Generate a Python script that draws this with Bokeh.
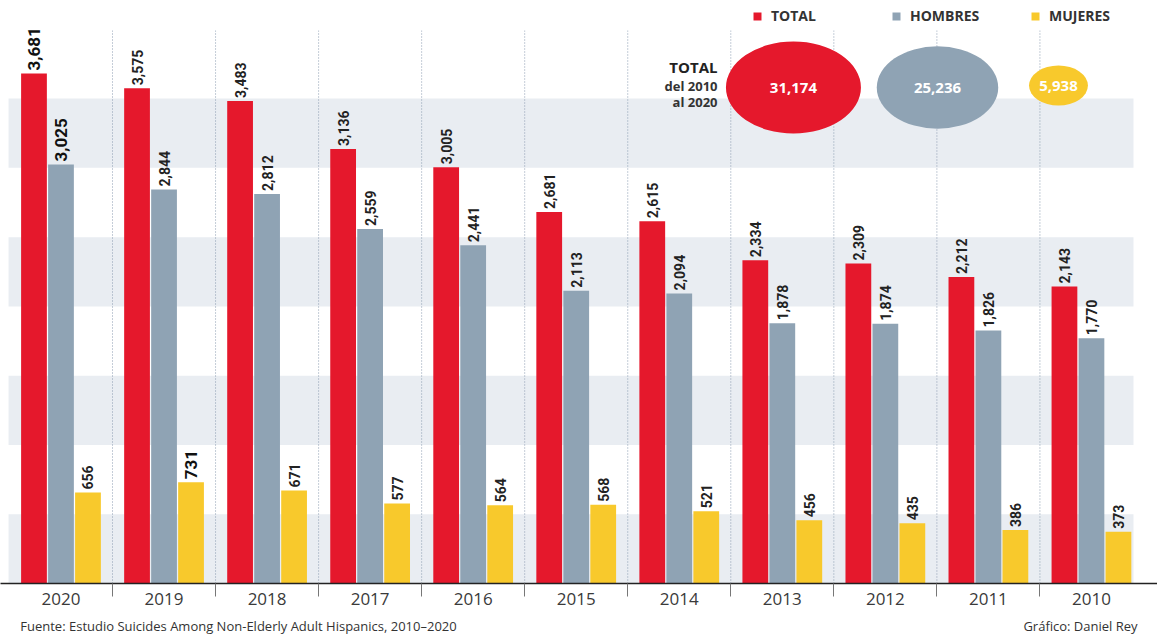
import numpy as np
from bokeh.plotting import figure
from bokeh.models import Range1d, FixedTicker, Legend, LegendItem, Label, LinearAxis
from bokeh.core.properties import value
from bokeh.embed import file_html
from bokeh.resources import INLINE

# ---------------- data ----------------
years = ["2020", "2019", "2018", "2017", "2016", "2015", "2014", "2013", "2012", "2011", "2010"]
total = [3681, 3575, 3483, 3136, 3005, 2681, 2615, 2334, 2309, 2212, 2143]
hombres = [3025, 2844, 2812, 2559, 2441, 2113, 2094, 1878, 1874, 1826, 1770]
mujeres = [656, 731, 671, 577, 564, 568, 521, 456, 435, 386, 373]
series_names = ["TOTAL", "HOMBRES", "MUJERES"]
series_values = [total, hombres, mujeres]
footer_texts = ["Fuente: Estudio Suicides Among Non-Elderly Adult Hispanics, 2010\u20132020",
                "Gr\u00e1fico: Daniel Rey"]

# ---------------- style ----------------
colors = ["#e5182c", "#8fa3b4", "#f8c92c"]
band_color = "#e9edf2"
band_bottoms = [0, 1000, 2000, 3000]
band_tops = [500, 1500, 2500, 3500]
offsets = [-0.262, 0.0, 0.262]
bar_w = 0.25
LABEL_FONT = "Roboto"
MAIN_FONT = "Open Sans"

n = len(years)
centers = np.arange(n)
boundaries = np.arange(n - 1) + 0.5
x_lo, x_hi = -0.587, 10.641

p = figure(width=1157, height=637,
           x_range=Range1d(x_lo, x_hi), y_range=Range1d(0, 4208),
           y_axis_type=None, toolbar_location=None, output_backend="svg",
           min_border_left=0, min_border_right=0, min_border_top=0, min_border_bottom=54)
p.xgrid.visible = False
p.ygrid.visible = False
p.outline_line_color = None
p.background_fill_color = "white"

# background bands
p.quad(left=-0.509, right=10.408, bottom=band_bottoms, top=band_tops,
       fill_color=band_color, line_color=None)

# dotted separators between years
p.segment(x0=boundaries, y0=0, x1=boundaries, y1=3990,
          line_color="#8a9bb0", line_dash="1 2", line_width=1)

# bars + labels
renderers = []
for vals, off, col in zip(series_values, offsets, colors):
    xs = centers + off
    r = p.vbar(x=xs, top=vals, width=bar_w, fill_color=col, line_color=None)
    renderers.append(r)
    vmax = max(vals)
    norm_idx = [i for i, v in enumerate(vals) if v != vmax]
    bold_idx = [i for i, v in enumerate(vals) if v == vmax]
    p.text(x=[xs[i] for i in norm_idx], y=[vals[i] for i in norm_idx],
           text=[f"{vals[i]:,}" for i in norm_idx],
           angle=np.pi / 2, text_align="left", text_baseline="middle", y_offset=-3,
           text_font=value(LABEL_FONT), text_font_size="14px", text_font_style="bold",
           text_color="#222222")
    p.text(x=[xs[i] for i in bold_idx], y=[vals[i] for i in bold_idx],
           text=[f"{vals[i]:,}" for i in bold_idx],
           angle=np.pi / 2, text_align="left", text_baseline="middle", y_offset=-3,
           text_font=value(LABEL_FONT), text_font_size="17px", text_font_style="bold",
           text_color="#111111")

# bubbles with overall sums (area proportional)
sums = [sum(v) for v in series_values]
bubble_x = [7.108, 8.506, 9.68]
bubble_y = [3580, 3580, 3594]
k = 135 / np.sqrt(max(sums))
bw = [k * np.sqrt(s) for s in sums]
bh = [0.68 * w for w in bw]
p.ellipse(x=bubble_x, y=bubble_y, width=bw, height=bh,
          width_units="screen", height_units="screen",
          fill_color=colors, line_color=None)
p.text(x=bubble_x, y=bubble_y, text=[f"{s:,}" for s in sums],
       text_align="center", text_baseline="middle",
       text_font=value(MAIN_FONT), text_font_size="15px", text_font_style="bold",
       text_color="white")

p.add_layout(Label(x=717, y=517, x_units="screen", y_units="screen", text="TOTAL",
                   text_align="right", text_baseline="middle", text_font=MAIN_FONT,
                   text_font_size="15px", text_font_style="bold", text_color="#222222"))
p.add_layout(Label(x=717, y=498, x_units="screen", y_units="screen", text="del 2010",
                   text_align="right", text_baseline="middle", text_font=MAIN_FONT,
                   text_font_size="13px", text_font_style="bold", text_color="#333333"))
p.add_layout(Label(x=717, y=482, x_units="screen", y_units="screen", text="al 2020",
                   text_align="right", text_baseline="middle", text_font=MAIN_FONT,
                   text_font_size="13px", text_font_style="bold", text_color="#333333"))

# legend
legend = Legend(items=[LegendItem(label=nm, renderers=[r]) for nm, r in zip(series_names, renderers)],
                orientation="horizontal", location=(752, 558),
                glyph_width=10, glyph_height=10, label_standoff=9, label_width=120,
                spacing=0, padding=0, margin=0,
                background_fill_alpha=0, border_line_color=None,
                label_text_font=MAIN_FONT, label_text_font_size="14px",
                label_text_font_style="bold", label_text_color="#333333")
p.add_layout(legend)

# x axis
ax = p.xaxis[0]
ax.ticker = FixedTicker(ticks=list(centers), minor_ticks=list(boundaries))
ax.major_label_overrides = {int(c): y for c, y in zip(centers, years)}
ax.major_tick_line_color = None
ax.major_tick_out = 0
ax.major_tick_in = 0
ax.minor_tick_out = 13
ax.minor_tick_in = 0
ax.minor_tick_line_color = "#777777"
ax.axis_line_color = "#222222"
ax.axis_line_width = 1.5
ax.major_label_standoff = -4
ax.major_label_text_font = MAIN_FONT
ax.major_label_text_font_size = "17px"
ax.major_label_text_color = "#3a3a3a"

# footer (an unlined axis in pixel units carrying the two source texts)
p.extra_x_ranges = {"px": Range1d(0, 1157)}
footer_centers = [238, 1080]
fax = LinearAxis(x_range_name="px",
                 ticker=FixedTicker(ticks=footer_centers, minor_ticks=[]),
                 major_label_overrides={c: t for c, t in zip(footer_centers, footer_texts)},
                 axis_line_color=None, major_tick_line_color=None, minor_tick_line_color=None,
                 major_tick_out=0, major_tick_in=0, minor_tick_out=0, minor_tick_in=0,
                 major_label_standoff=9,
                 major_label_text_font=MAIN_FONT, major_label_text_font_size="13px",
                 major_label_text_color="#333333")
p.add_layout(fax, "below")

open("out.html", "w").write(file_html(p, INLINE))
